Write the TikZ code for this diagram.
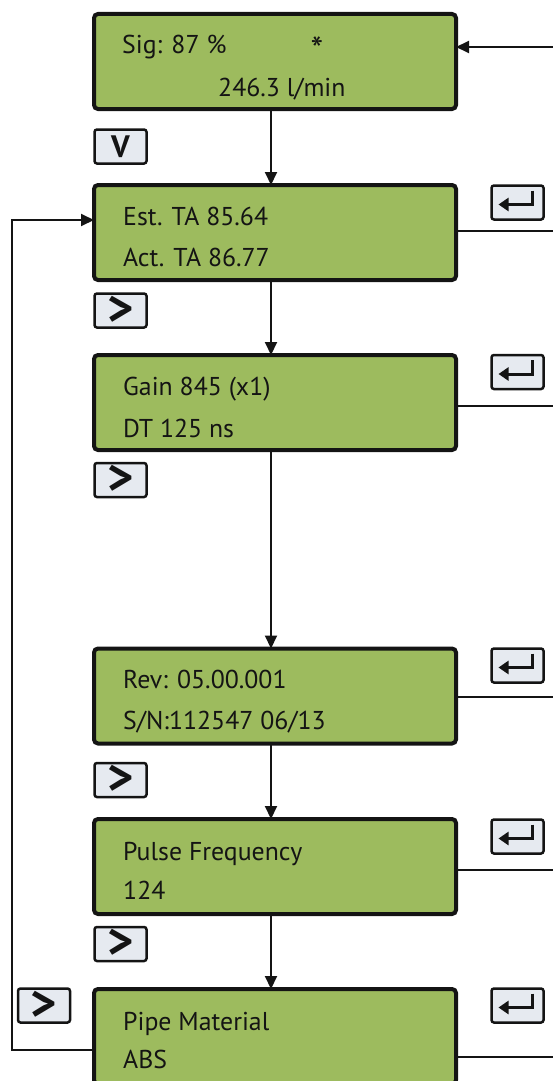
\documentclass[tikz,border=0pt]{standalone}
\usepackage{fontspec}
\setmainfont{PT Sans}
\usetikzlibrary{arrows.meta}
\definecolor{lcd}{HTML}{9DBB5E}
\definecolor{keyfill}{HTML}{E6EAF0}
\definecolor{ink}{HTML}{141414}
\begin{document}
\begin{tikzpicture}[x=1pt,y=-1pt,
  lcdbox/.style={draw=ink, fill=lcd, line width=4pt, rounded corners=4pt,
    minimum width=362pt, minimum height=95pt, inner sep=0pt, outer sep=0pt},
  keybox/.style={draw=ink, fill=keyfill, line width=2.5pt, rounded corners=2.5pt,
    minimum width=52pt, minimum height=34pt, inner sep=0pt, outer sep=0pt,
    font=\bfseries\fontsize{31}{31}\selectfont, text=ink},
  chevron/.style={keybox, font=\bfseries\fontsize{50}{50}\selectfont},
  lcdtext/.style={anchor=base west, inner sep=0pt, font=\fontsize{25.8}{25.8}\selectfont, text=ink},
  link/.style={line width=2pt, draw=ink},
  thinlink/.style={line width=1.5pt, draw=ink},
  tip/.style={-{Triangle[length=13pt,width=12pt]}},
  entericon/.style={line width=3pt, draw=ink, line join=miter, -{Triangle[length=10pt,width=13pt]}}
]
\useasboundingbox (0,0) rectangle (553,1081);

% LCD boxes
\node[lcdbox] (b1) at (275,61.5) {};
\node[lcdbox] (b2) at (275,232.5) {};
\node[lcdbox] (b3) at (275,402.5) {};
\node[lcdbox] (b4) at (275,696) {};
\node[lcdbox] (b5) at (275,866.5) {};
\node[lcdbox] (b6) at (275,1036.5) {};

% texts
\node[lcdtext] (t1a) at (122,54) {Sig: 87 \%};
\node[anchor=base, inner sep=0pt, font=\fontsize{36}{36}\selectfont, text=ink] (t1s) at (317,63) {*};
\node[lcdtext] (t1b) at (218,96) {246.3 l/min};
\node[lcdtext] (t2a) at (123,225) {Est. TA 85.64};
\node[lcdtext] (t2b) at (123,266) {Act. TA 86.77};
\node[lcdtext] (t3a) at (123,395) {Gain 845 (x1)};
\node[lcdtext] (t3b) at (123,437) {DT 125 ns};
\node[lcdtext] (t4a) at (123,688) {Rev: 05.00.001};
\node[lcdtext] (t4b) at (123,729) {S/N:112547 06/13};
\node[lcdtext] (t5a) at (123,860) {Pulse Frequency};
\node[lcdtext] (t5b) at (123,899) {124};
\node[lcdtext] (t6a) at (123,1030) {Pipe Material};
\node[lcdtext] (t6b) at (123,1068) {ABS};

% navigation keys
\node[keybox] (kv) at (120.5,146.5) {V};
\node[chevron] (kn2) at (120.5,310.5) {>};
\node[chevron] (kn3) at (120.5,480) {>};
\node[chevron] (kn4) at (120.5,780) {>};
\node[chevron] (kn5) at (120.5,944) {>};
\node[chevron] (kn6) at (44,1005.5) {>};

% enter keys
\foreach \n/\y in {2/202.5,3/372,4/665.5,5/836.5,6/1005.5}{
  \node[keybox] (ke\n) at (517.5,\y) {};
  \draw[entericon,shift={(ke\n.center)}] (15,-12) -- (15,2) -- (-19,2);
}

% vertical flow
\coordinate (vx) at (271,0);
\draw[link,tip] (b1.south -| vx) -- (b2.north -| vx);
\draw[link,tip] (b2.south -| vx) -- (b3.north -| vx);
\draw[link,tip] (b3.south -| vx) -- (b4.north -| vx);
\draw[link,tip] (b4.south -| vx) -- (b5.north -| vx);
\draw[link,tip] (b5.south -| vx) -- (b6.north -| vx);

% incoming arrow to top box
\coordinate (in1) at (553,47);
\draw[link,tip] (in1) -- (in1 -| b1.east);

% right side lines
\coordinate (rx) at (553,0);
\draw[thinlink] ([yshift=1.5pt]b2.east) coordinate (r2) -- (r2 -| rx);
\draw[thinlink] ([yshift=-3.5pt]b3.east) coordinate (r3) -- (r3 -| rx);
\draw[thinlink] ([yshift=-1pt]b4.east) coordinate (r4) -- (r4 -| rx);
\draw[thinlink] ([yshift=-3.5pt]b5.east) coordinate (r5) -- (r5 -| rx);
\draw[thinlink] ([yshift=-20.5pt]b6.east) coordinate (r6) -- (r6 -| rx);

% left loop
\coordinate (lx) at (12,0);
\coordinate (l2) at ([yshift=12.5pt]b2.west);
\draw[link,tip] ([yshift=-13.5pt]b6.west) coordinate (l1) -- (l1 -| lx) -- (lx |- l2) -- (l2);
\end{tikzpicture}
\end{document}
